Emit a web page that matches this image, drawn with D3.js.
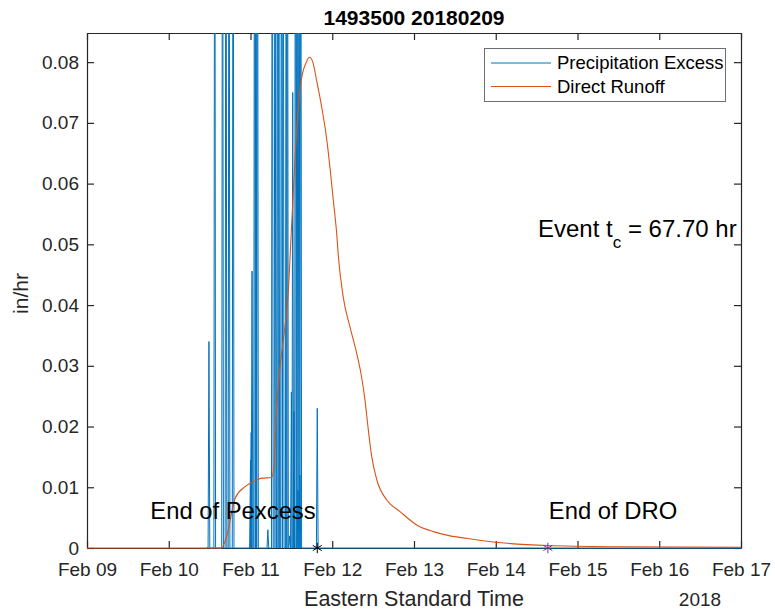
<!DOCTYPE html>
<html>
<head>
<meta charset="utf-8">
<script src="https://cdn.jsdelivr.net/npm/d3@7"></script>
<style>
  html, body { margin: 0; padding: 0; background: #fff; }
  svg { display: block; font-family: "Liberation Sans", Arial, Helvetica, sans-serif; }
</style>
</head>
<body>
<svg id="chart" width="775" height="613"></svg>
<script>
// ---------- data ----------
const chartTitle = "1493500 20180209";
const startDate = Date.UTC(2018, 1, 9);          // Feb 09 2018 00:00
const endDate = Date.UTC(2018, 1, 17);           // Feb 17 2018 00:00
const yTickValues = [0, 0.01, 0.02, 0.03, 0.04, 0.05, 0.06, 0.07, 0.08];
const yTickLabels = ["0", "0.01", "0.02", "0.03", "0.04", "0.05", "0.06", "0.07", "0.08"];

// precipitation excess spikes: hours after Feb 09 00:00, value in/hr
const pexHours = [35.8, 37.5, 39.8, 40.8, 41.7, 42.9, 48.0, 48.2, 48.45, 49.2, 49.6, 50.05,
                  53.1, 54.4, 55.2, 55.9, 56.3, 57.1, 57.6, 58.5, 58.85, 59.5, 60.0, 60.4,
                  60.77, 61.2, 61.65, 61.95, 62.25, 62.5, 62.75, 67.6];
const pexValues = [0.034, 0.15, 0.15, 0.15, 0.15, 0.15, 0.0145, 0.019, 0.0456, 0.15, 0.15, 0.15,
                   0.003, 0.15, 0.15, 0.15, 0.15, 0.15, 0.15, 0.15, 0.15, 0.002, 0.0257, 0.075,
                   0.0225, 0.15, 0.15, 0.0095, 0.15, 0.012, 0.15, 0.023];

// direct runoff: hours after Feb 09 00:00, value in/hr
const droHours = [0, 39.5, 41.0, 43.5, 46.4, 48.8, 51.3, 54.2, 54.9, 55.6, 56.6, 58.0, 59.0, 60.0,
                  61.0, 61.9, 62.9, 64.4, 65.3, 66.3, 67.4, 68.9, 70.4, 71.3, 72.3, 73.3, 73.8,
                  75.2, 77.2, 79.2, 80.6, 81.6, 82.6, 83.6, 85.1, 88.0, 91.9, 96.8, 101.7, 106.6,
                  111.5, 119.3, 135.3, 156.5, 192];
const droValues = [0, 0, 0.0019, 0.0082, 0.0101, 0.0109, 0.0115, 0.0116, 0.0134, 0.0222, 0.0293,
                   0.0359, 0.0414, 0.0523, 0.0633, 0.0715, 0.077, 0.080, 0.0808, 0.080, 0.077,
                   0.0726, 0.0672, 0.0628, 0.0573, 0.0518, 0.048, 0.0414, 0.0364, 0.032, 0.0282,
                   0.0244, 0.0194, 0.015, 0.0112, 0.0079, 0.006, 0.0038, 0.0027, 0.002, 0.0016,
                   0.001, 0.0004, 0.0002, 0.0001];

const pexEndHour = 67.6;   // End of Pexcess marker
const droEndHour = 135.3;  // End of DRO marker
const seriesNames = ["Precipitation Excess", "Direct Runoff"];
const tcText = "67.70 hr";

// ---------- layout ----------
const L = 87, R = 741, T = 33, B = 548;
const blue = "#0072BD", orange = "#D95319", purple = "#7E2F8E", axisCol = "#262626";
const hourToDate = h => new Date(startDate + h * 3600 * 1000);

const svg = d3.select("#chart");
const x = d3.scaleUtc().domain([new Date(startDate), new Date(endDate)]).range([L, R]);
const y = d3.scaleLinear().domain([0, 0.0848]).range([B, T]);

// axes (drawn below data like MATLAB)
const tickLen = 7;
const xTicks = d3.utcDay.range(new Date(startDate), new Date(endDate + 1));
const fmt = d3.utcFormat("%b %d");

const gx = svg.append("g").attr("transform", `translate(0,${B})`)
  .call(d3.axisBottom(x).tickValues(xTicks).tickFormat(fmt).tickSizeInner(-tickLen).tickSizeOuter(0).tickPadding(15));
const gxt = svg.append("g").attr("transform", `translate(0,${T})`)
  .call(d3.axisTop(x).tickValues(xTicks).tickFormat("").tickSizeInner(-tickLen).tickSizeOuter(0));
const gy = svg.append("g").attr("transform", `translate(${L},0)`)
  .call(d3.axisLeft(y).tickValues(yTickValues).tickFormat((d, i) => yTickLabels[i]).tickSizeInner(-tickLen).tickSizeOuter(0).tickPadding(8));
const gyr = svg.append("g").attr("transform", `translate(${R},0)`)
  .call(d3.axisRight(y).tickValues(yTickValues).tickFormat("").tickSizeInner(-tickLen).tickSizeOuter(0));

[gx, gxt, gy, gyr].forEach(g => {
  g.select(".domain").attr("stroke", axisCol).attr("stroke-width", 1.2);
  g.selectAll(".tick line").attr("stroke", axisCol).attr("stroke-width", 1.2);
  g.selectAll(".tick text").attr("fill", axisCol).attr("font-size", 19).attr("font-family", "Liberation Sans, Arial, sans-serif");
});

// clip
svg.append("defs").append("clipPath").attr("id", "clip")
  .append("rect").attr("x", L).attr("y", T).attr("width", R - L).attr("height", B - T + 1);

const plot = svg.append("g").attr("clip-path", "url(#clip)");

// precipitation excess line (spikes at a 15-min step)
const step = 0.25;
const pexPts = [[35.0, 0]];
pexHours.forEach((h, i) => {
  pexPts.push([h - step, 0], [h, pexValues[i]], [h + step, 0]);
});
pexPts.push([192, 0]);
const line = d3.line().x(d => x(hourToDate(d[0]))).y(d => y(d[1]));
plot.append("path").datum(pexPts).attr("d", line)
  .attr("fill", "none").attr("stroke", blue).attr("stroke-width", 1);

// direct runoff
const droPts = droHours.map((h, i) => [h, droValues[i]]);
const smooth = d3.line().curve(d3.curveMonotoneX).x(d => x(hourToDate(d[0]))).y(d => y(d[1]));
plot.append("path").datum(droPts).attr("d", smooth)
  .attr("fill", "none").attr("stroke", orange).attr("stroke-width", 1.1);

// markers
const ast = d3.symbol().type(d3.symbolAsterisk).size(75);
svg.append("path").attr("d", ast()).attr("transform", `translate(${x(hourToDate(pexEndHour))},${y(0)})`)
  .attr("fill", "none").attr("stroke", "#000").attr("stroke-width", 1);
svg.append("path").attr("d", ast()).attr("transform", `translate(${x(hourToDate(droEndHour))},${y(0)})`)
  .attr("fill", "none").attr("stroke", purple).attr("stroke-width", 1);

// annotations
svg.append("text").attr("x", 233).attr("y", 519).attr("text-anchor", "middle")
  .attr("font-size", 23.8).attr("fill", "#000").text("End of Pexcess");
svg.append("text").attr("x", 613).attr("y", 519).attr("text-anchor", "middle")
  .attr("font-size", 23.8).attr("fill", "#000").text("End of DRO");
const tc = svg.append("text").attr("x", 538).attr("y", 237).attr("font-size", 24).attr("fill", "#000");
tc.append("tspan").text("Event t");
tc.append("tspan").attr("dy", 11).attr("font-size", 17).text("c");
tc.append("tspan").attr("dy", -11).text(" = " + tcText);

// title and labels
svg.append("text").attr("x", (L + R) / 2).attr("y", 25).attr("text-anchor", "middle")
  .attr("font-size", 21).attr("font-weight", "bold").attr("fill", "#000").text(chartTitle);
svg.append("text").attr("x", (L + R) / 2).attr("y", 606).attr("text-anchor", "middle")
  .attr("font-size", 21.5).attr("fill", axisCol).text("Eastern Standard Time");
svg.append("text").attr("x", 700).attr("y", 606).attr("text-anchor", "middle")
  .attr("font-size", 19).attr("fill", axisCol).text("2018");
svg.append("text").attr("transform", `translate(28,${(T + B) / 2 + 3}) rotate(-90)`).attr("text-anchor", "middle")
  .attr("font-size", 21).attr("fill", axisCol).text("in/hr");

// legend
const lg = svg.append("g");
lg.append("rect").attr("x", 484.5).attr("y", 48.5).attr("width", 241).attr("height", 53)
  .attr("fill", "#fff").attr("stroke", "#6e6e6e").attr("stroke-width", 1);
[blue, orange].forEach((c, i) => {
  const yy = 63 + i * 23.5;
  lg.append("line").attr("x1", 491).attr("x2", 551).attr("y1", yy).attr("y2", yy)
    .attr("stroke", c).attr("stroke-width", 1);
  lg.append("text").attr("x", 557).attr("y", yy).attr("dy", "0.35em").attr("font-size", 18.5)
    .attr("fill", "#000").text(seriesNames[i]);
});
</script>
</body>
</html>
